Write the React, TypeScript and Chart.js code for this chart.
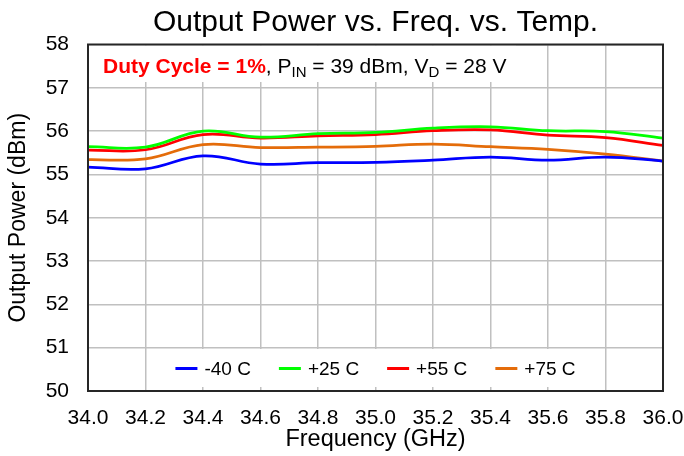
import React, { useEffect, useRef } from "react";
import { Chart, registerables } from "chart.js";

Chart.register(...registerables);

const FONT = '"Liberation Sans", Arial, Helvetica, sans-serif';

const chartTitle = "Output Power vs. Freq. vs. Temp.";
const xAxisTitle = "Frequency (GHz)";
const yAxisTitle = "Output Power (dBm)";

const frequencies = [34.0, 34.2, 34.4, 34.6, 34.8, 35.0, 35.2, 35.4, 35.6, 35.8, 36.0];

const seriesLabels = ["-40 C", "+25 C", "+55 C", "+75 C"];
const seriesColors = ["#0000ff", "#00ff00", "#ff0000", "#e46c0a"];

const powerMinus40 = [55.17, 55.13, 55.43, 55.24, 55.27, 55.28, 55.33, 55.40, 55.33, 55.40, 55.31];
const powerPlus25 = [55.64, 55.63, 56.00, 55.86, 55.94, 55.97, 56.07, 56.10, 56.01, 55.99, 55.84];
const powerPlus55 = [55.56, 55.57, 55.92, 55.84, 55.89, 55.92, 56.01, 56.03, 55.91, 55.85, 55.67];
const powerPlus75 = [55.34, 55.36, 55.69, 55.62, 55.63, 55.65, 55.70, 55.64, 55.58, 55.47, 55.31];

const seriesValues = [powerMinus40, powerPlus25, powerPlus55, powerPlus75];

const xMin = 34.0;
const xMax = 36.0;
const xStep = 0.2;
const yMin = 50;
const yMax = 58;
const yStep = 1;

const noteBold = "Duty Cycle = 1%";
const noteParts = [
  { text: ", P", sub: false },
  { text: "IN", sub: true },
  { text: " = 39 dBm, V", sub: false },
  { text: "D", sub: true },
  { text: " = 28 V", sub: false },
];

const overlayPlugin = {
  id: "overlay",
  beforeDatasetsDraw(chart: any) {
    const { ctx, chartArea: a } = chart;
    const xs = chart.scales.x;
    ctx.save();
    ctx.fillStyle = "#ffffff";
    // annotation background
    ctx.fillRect(a.left + 1, a.top + 1, 427, 36.5);
    // legend background
    const lx0 = xs.getPixelForValue(34.2) + 1.5;
    const lx1 = xs.getPixelForValue(35.8) - 1.5;
    ctx.fillRect(lx0, a.bottom - 42, lx1 - lx0, 38);
    ctx.restore();
  },
  afterDatasetsDraw(chart: any) {
    const { ctx, chartArea: a } = chart;
    ctx.save();
    // frame
    ctx.strokeStyle = "#262626";
    ctx.lineWidth = 2;
    ctx.strokeRect(a.left, a.top, a.right - a.left, a.bottom - a.top);

    // annotation text
    let x = a.left + 15;
    const baseY = a.top + 28;
    ctx.textBaseline = "alphabetic";
    ctx.textAlign = "left";
    ctx.font = `bold 21px ${FONT}`;
    ctx.fillStyle = "#ff0000";
    ctx.fillText(noteBold, x, baseY);
    x += ctx.measureText(noteBold).width;
    ctx.fillStyle = "#000000";
    for (const p of noteParts) {
      ctx.font = p.sub ? `15px ${FONT}` : `21px ${FONT}`;
      ctx.fillText(p.text, x, p.sub ? baseY + 4 : baseY);
      x += ctx.measureText(p.text).width;
    }

    // legend
    ctx.font = `19px ${FONT}`;
    const lineLen = 22;
    const gapLineText = 7;
    const gapItems = 28;
    const widths = seriesLabels.map((l) => ctx.measureText(l).width);
    const total =
      widths.reduce((s, w) => s + w + lineLen + gapLineText, 0) + gapItems * (seriesLabels.length - 1);
    let lx = (a.left + a.right) / 2 - total / 2;
    const ly = a.bottom - 22.5;
    ctx.textBaseline = "middle";
    seriesLabels.forEach((label, i) => {
      ctx.strokeStyle = seriesColors[i];
      ctx.lineWidth = 3;
      ctx.beginPath();
      ctx.moveTo(lx, ly);
      ctx.lineTo(lx + lineLen, ly);
      ctx.stroke();
      ctx.fillStyle = "#000000";
      ctx.fillText(label, lx + lineLen + gapLineText, ly + 1);
      lx += lineLen + gapLineText + widths[i] + gapItems;
    });
    ctx.restore();
  },
};

export default function App() {
  const canvasRef = useRef<HTMLCanvasElement | null>(null);

  useEffect(() => {
    document.body.style.margin = "0";
    const canvas = canvasRef.current;
    if (!canvas) return;

    const datasets = seriesLabels.map((label, i) => ({
      label,
      data: frequencies.map((f, j) => ({ x: f, y: seriesValues[i][j] })),
      borderColor: seriesColors[i],
      backgroundColor: seriesColors[i],
      borderWidth: 2.75,
      pointRadius: 0,
      tension: 0.4,
      fill: false,
    }));

    const chart = new Chart(canvas, {
      type: "line",
      data: { datasets },
      plugins: [overlayPlugin],
      options: {
        animation: false,
        responsive: false,
        maintainAspectRatio: false,
        layout: { padding: { left: 0, right: 21, top: 0, bottom: 0 } },
        plugins: {
          legend: { display: false },
          tooltip: { enabled: false },
          title: {
            display: true,
            text: chartTitle,
            fullSize: false,
            color: "#000000",
            font: { family: FONT, size: 30, weight: "normal" },
            padding: { top: 5, bottom: 3.5 },
          },
        },
        scales: {
          x: {
            type: "linear",
            min: xMin,
            max: xMax,
            afterFit: (s: any) => {
              s.height = 65;
              s.paddingLeft = 0;
              s.paddingRight = 0;
            },
            ticks: {
              stepSize: xStep,
              color: "#000000",
              font: { family: FONT, size: 21 },
              padding: 15,
              maxRotation: 0,
              autoSkip: false,
              callback: (v: any) => Number(v).toFixed(1),
            },
            grid: { color: "#c0c0c0", lineWidth: 1.5, drawTicks: false },
            border: { display: false },
            title: {
              display: true,
              text: xAxisTitle,
              color: "#000000",
              font: { family: FONT, size: 23.5 },
              padding: { top: 0, bottom: 2 },
            },
          },
          y: {
            type: "linear",
            min: yMin,
            max: yMax,
            afterFit: (s: any) => {
              s.width = 88;
              s.paddingTop = 0;
              s.paddingBottom = 0;
            },
            ticks: {
              stepSize: yStep,
              color: "#000000",
              font: { family: FONT, size: 21 },
              padding: 19,
            },
            grid: { color: "#c0c0c0", lineWidth: 1.5, drawTicks: false },
            border: { display: false },
            title: {
              display: true,
              text: yAxisTitle,
              color: "#000000",
              font: { family: FONT, size: 23 },
              padding: { top: 5, bottom: 0 },
            },
          },
        },
      } as any,
    });

    return () => chart.destroy();
  }, []);

  return (
    <div style={{ width: 684, height: 456, background: "#ffffff" }}>
      <canvas ref={canvasRef} width={684} height={456} style={{ display: "block" }} />
    </div>
  );
}
